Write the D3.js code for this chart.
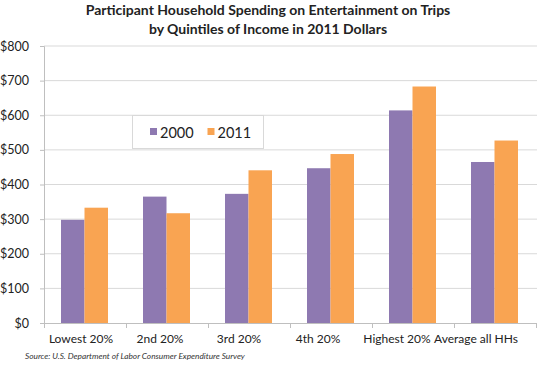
<!DOCTYPE html>
<html>
<head>
<meta charset="utf-8">
<script src="https://cdn.jsdelivr.net/npm/d3@7"></script>
<style>
  html, body { margin: 0; padding: 0; background: #fff; }
  svg { display: block; font-family: Lato, 'Open Sans', sans-serif; }
</style>
</head>
<body>
<div id="chart"></div>
<script>
const categories = ['Lowest 20%', '2nd 20%', '3rd 20%', '4th 20%', 'Highest 20%', 'Average all HHs'];
const series = ['2000', '2011'];
const values2000 = [298, 365, 373, 447, 614, 465];
const values2011 = [333, 317, 441, 488, 683, 527];
const yTicks = [0, 100, 200, 300, 400, 500, 600, 700, 800];
const colors = ['#8E79B1', '#F9A452'];

const W = 540, H = 367;
const margin = { t: 46, r: 4, b: 44, l: 44 };
const innerWidth = W - margin.l - margin.r;
const innerHeight = H - margin.t - margin.b;

const data = categories.map((c, i) => ({ cat: c, vals: [values2000[i], values2011[i]] }));

const x = d3.scaleBand().domain(categories).range([0, 492]);
const x1 = d3.scaleBand().domain(series).range([17, 82 - 18]);
// the category labels sit a little left of the band centres in the original
const xLab = d3.scaleBand().domain(categories).range([-2.5, 471.5]);
const y = d3.scaleLinear().domain([0, 800]).range([innerHeight, 0]);

const svg = d3.select('#chart').append('svg')
  .attr('width', W)
  .attr('height', H);

// title
const title = svg.append('text')
  .attr('text-anchor', 'middle')
  .attr('font-size', 14)
  .attr('font-weight', 'bold')
  .attr('fill', '#222');
title.append('tspan').attr('x', 268).attr('y', 15).text('Participant Household Spending on Entertainment on Trips');
title.append('tspan').attr('x', 268).attr('y', 34).text('by Quintiles of Income in 2011 Dollars');

const plot = svg.append('g')
  .attr('transform', `translate(${margin.l}, ${margin.t})`);

// gridlines
plot.append('g')
  .selectAll('line')
  .data(yTicks.filter(d => d > 0))
  .join('line')
  .attr('x1', 0)
  .attr('x2', 493)
  .attr('y1', d => y(d))
  .attr('y2', d => y(d))
  .attr('stroke', '#d9d9d9')
  .attr('stroke-width', 1);

// y axis
const axisY = d3.axisLeft(y)
  .tickValues(yTicks)
  .tickSize(4)
  .tickPadding(11)
  .tickFormat(d => '$' + d);

plot.append('g')
  .attr('class', 'axis axis-y')
  .call(axisY)
  .call(g => g.selectAll('line, path').attr('stroke', '#bfbfbf'))
  .call(g => g.select('.domain').attr('d', `M-4,0.5H0.5V${innerHeight}`))
  .call(g => g.selectAll('text')
    .attr('font-size', 12.5)
    .attr('fill', '#222')
    .style('font-family', 'Lato, sans-serif'));

// bars
const groups = plot.append('g')
  .selectAll('g')
  .data(data)
  .join('g')
  .attr('transform', d => `translate(${x(d.cat)}, 0)`);

groups.selectAll('rect')
  .data(d => d.vals.map((v, i) => ({ s: series[i], v: v, i: i })))
  .join('rect')
  .attr('x', d => x1(d.s))
  .attr('width', x1.bandwidth())
  .attr('y', d => y(d.v))
  .attr('height', d => innerHeight - y(d.v))
  .attr('fill', d => colors[d.i]);

// x axis
const gx = plot.append('g')
  .attr('class', 'axis axis-x')
  .attr('transform', `translate(0, ${innerHeight})`);
gx.append('path')
  .attr('stroke', '#bfbfbf')
  .attr('fill', 'none')
  .attr('d', 'M0,0.5H493');

// band boundary ticks
gx.append('g')
  .selectAll('line')
  .data(categories.map(c => x(c)).concat([x.range()[1]]))
  .join('line')
  .attr('x1', d => d + 0.5)
  .attr('x2', d => d + 0.5)
  .attr('y1', 0)
  .attr('y2', 5)
  .attr('stroke', '#bfbfbf');

gx.append('g')
  .call(d3.axisBottom(xLab).tickSize(0).tickPadding(11))
  .call(g => g.select('.domain').remove())
  .call(g => g.selectAll('text')
    .attr('font-size', 12)
    .attr('fill', '#222')
    .style('font-family', 'Lato, sans-serif'));

// legend
const legend = svg.append('g').attr('transform', 'translate(132.5, 115.5)');
legend.append('rect')
  .attr('width', 131)
  .attr('height', 33)
  .attr('fill', '#fff')
  .attr('stroke', '#d9d9d9');

const items = legend.selectAll('g.item')
  .data(series)
  .join('g')
  .attr('class', 'item')
  .attr('transform', (d, i) => `translate(${17.5 + i * 57.5}, 0)`);
items.append('rect')
  .attr('y', 12.5)
  .attr('width', 7)
  .attr('height', 7)
  .attr('fill', (d, i) => colors[i]);
items.append('text')
  .attr('x', 10)
  .attr('y', 22.5)
  .attr('font-size', 14.5)
  .attr('fill', '#222')
  .text(d => d);

// source
svg.append('text')
  .attr('x', 25)
  .attr('y', 359)
  .attr('font-size', 8.3)
  .attr('font-style', 'italic')
  .attr('fill', '#333')
  .text('Source: U.S. Department of Labor Consumer Expenditure Survey');
</script>
</body>
</html>
